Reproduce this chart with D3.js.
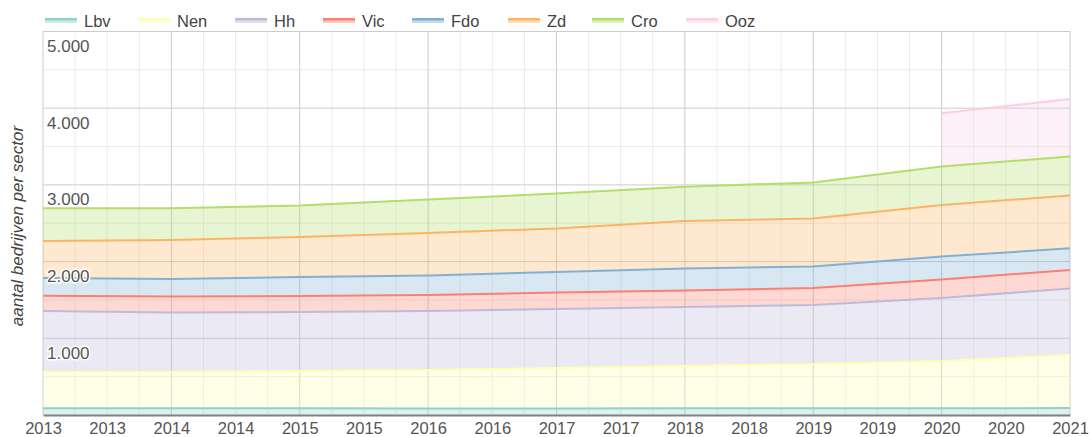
<!DOCTYPE html>
<html>
<head>
<meta charset="utf-8">
<script src="https://cdn.jsdelivr.net/npm/d3@7"></script>
<style>
  html, body { margin: 0; padding: 0; background: #fff; }
  svg { display: block; font-family: "Liberation Sans", Arial, sans-serif; }
</style>
</head>
<body>
<svg id="chart" width="1092" height="437"></svg>
<script>
// Number of companies per sector, by year (stacked)
const years = [2013, 2014, 2015, 2016, 2017, 2018, 2019, 2020, 2021];
const Lbv = [88, 88, 87, 86, 86, 87, 88, 89, 90];
const Nen = [473, 473, 487, 501, 527, 552, 577, 615, 692];
const Hh  = [795, 775, 769, 769, 769, 769, 769, 821, 867];
const Vic = [199, 209, 208, 208, 215, 215, 222, 242, 241];
const Fdo = [231, 228, 248, 255, 267, 287, 280, 299, 283];
const Zd  = [483, 509, 522, 554, 568, 619, 626, 672, 689];
const Cro = [426, 413, 410, 437, 456, 448, 469, 502, 508];
const Ooz = [null, null, null, null, null, null, null, 693, 750];

const seriesNames = ["Lbv", "Nen", "Hh", "Vic", "Fdo", "Zd", "Cro", "Ooz"];
const seriesValues = [Lbv, Nen, Hh, Vic, Fdo, Zd, Cro, Ooz];
const colors = ["#8dd3c7", "#ffffb3", "#bebada", "#fb8072", "#80b1d3", "#fdb462", "#b3de69", "#fccde5"];

const xTickLabels = ["2013", "2013", "2014", "2014", "2015", "2015", "2016", "2016", "2017",
                     "2017", "2018", "2018", "2019", "2019", "2020", "2020", "2021"];
const yTicks = [1000, 2000, 3000, 4000, 5000];
const yTitle = "aantal bedrijven per sector";

(function draw() {
  const svg = d3.select("#chart");
  const pL = 43, pR = 1070, pT = 31.5, pB = 415;
  const font = "Liberation Sans, Arial, sans-serif";
  const fs = 16.5;

  const x = d3.scaleLinear().domain([years[0], years[years.length - 1]]).range([pL, pR]);
  const y = d3.scaleLinear().domain([0, 5000]).range([pB, pT]);

  const nl = d3.formatLocale({ decimal: ",", thousands: ".", grouping: [3], currency: ["€", ""] });
  const fmt = nl.format(",");

  // table rows for the stack
  const rows = years.map((yr, i) => {
    const r = { year: yr };
    seriesNames.forEach((n, k) => { r[n] = seriesValues[k][i]; });
    return r;
  });
  const stack = d3.stack().keys(seriesNames).value((d, key) => d[key] == null ? 0 : d[key]);
  const layers = stack(rows);
  layers.forEach((layer, k) => layer.forEach(p => { p.k = k; }));

  // gridlines
  const grid = svg.append("g");
  const minorX = d3.range(years[0], years[years.length - 1] + 0.001, 0.25)
    .filter(v => Math.abs(v - Math.round(v)) > 0.01);
  grid.selectAll("line.mx").data(minorX).join("line")
    .attr("x1", d => x(d)).attr("x2", d => x(d)).attr("y1", pT).attr("y2", pB)
    .attr("stroke", "#ebebeb").attr("stroke-width", 1);
  grid.selectAll("line.my").data(d3.range(500, 5000, 1000)).join("line")
    .attr("x1", pL).attr("x2", pR).attr("y1", d => y(d)).attr("y2", d => y(d))
    .attr("stroke", "#ebebeb").attr("stroke-width", 1);
  grid.selectAll("line.Mx").data(years).join("line")
    .attr("x1", d => x(d)).attr("x2", d => x(d)).attr("y1", pT).attr("y2", pB)
    .attr("stroke", "#cccccc").attr("stroke-width", 1);
  grid.selectAll("line.My").data(yTicks).join("line")
    .attr("x1", pL).attr("x2", pR).attr("y1", d => y(d)).attr("y2", d => y(d))
    .attr("stroke", "#cccccc").attr("stroke-width", 1);

  // stacked areas and their top lines
  const isDef = d => d.data[seriesNames[d.k]] != null;
  const area = d3.area().defined(isDef)
    .x(d => x(d.data.year)).y0(d => y(d[0])).y1(d => y(d[1]));
  const line = d3.line().defined(isDef)
    .x(d => x(d.data.year)).y(d => y(d[1]));

  svg.append("g").selectAll("path").data(layers).join("path")
    .attr("d", area).attr("fill", (d, k) => colors[k]).attr("fill-opacity", 0.3);
  svg.append("g").selectAll("path").data(layers).join("path")
    .attr("d", line).attr("fill", "none").attr("stroke", (d, k) => colors[k])
    .attr("stroke-width", 2).attr("stroke-linejoin", "round");

  // baseline axis
  const xAxis = d3.axisBottom(x)
    .tickValues(xTickLabels.map((t, i) => years[0] + i / 2))
    .tickFormat((d, i) => xTickLabels[i])
    .tickSize(0).tickPadding(0);
  const gx = svg.append("g").attr("transform", `translate(0,${pB})`).call(xAxis);
  gx.select(".domain").attr("stroke", "#808080").attr("stroke-width", 2);
  gx.selectAll("text").attr("y", 19).attr("dy", null)
    .attr("font-family", font).attr("font-size", fs).attr("fill", "#555");

  // y labels inside the plot
  const yAxis = d3.axisLeft(y).tickValues(yTicks).tickFormat(fmt).tickSize(0);
  const gy = svg.append("g").attr("transform", `translate(${pL},0)`).call(yAxis);
  gy.select(".domain").remove();
  gy.selectAll("text")
    .attr("x", 4).attr("dy", 20).attr("text-anchor", "start")
    .attr("font-family", font).attr("font-size", 17).attr("fill", "#555")
    .attr("stroke", "#fff").attr("stroke-width", 3).attr("paint-order", "stroke")
    .attr("stroke-linejoin", "round");

  // axis title
  svg.append("text")
    .attr("transform", `translate(23,226) rotate(-90)`)
    .attr("text-anchor", "middle").attr("font-family", font).attr("font-size", 17)
    .attr("font-style", "italic").attr("fill", "#444").text(yTitle);

  // legend
  const legendX = [45, 138, 235, 323, 412, 508, 592, 686];
  const lg = svg.append("g").selectAll("g").data(seriesNames).join("g")
    .attr("transform", (d, i) => `translate(${legendX[i]},18)`);
  lg.append("rect").attr("x", 0).attr("y", 0).attr("width", 32).attr("height", 5)
    .attr("fill", (d, i) => colors[i]).attr("fill-opacity", 0.45);
  lg.append("rect").attr("x", 0).attr("y", 0).attr("width", 32).attr("height", 2.5)
    .attr("fill", (d, i) => colors[i]);
  lg.append("text").attr("x", 39).attr("y", 9).attr("font-family", font).attr("font-size", fs)
    .attr("fill", "#444").text(d => d);
})();
</script>
</body>
</html>
